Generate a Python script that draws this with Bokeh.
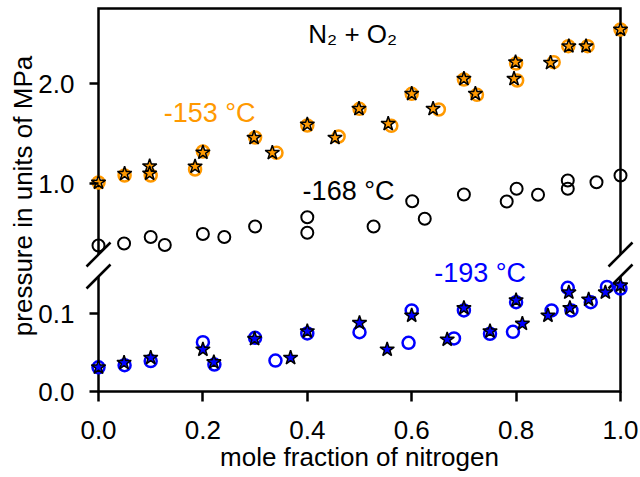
from bokeh.plotting import figure
from bokeh.models import Range1d, FixedTicker, PrintfTickFormatter, Label
from bokeh.embed import file_html
from bokeh.resources import INLINE

# ---------------- data (mole fraction of N2, pressure in MPa) ----------------
# -153 °C, circles
x153_circ = [0.0, 0.05, 0.10, 0.185, 0.20, 0.30, 0.341, 0.40, 0.46, 0.50, 0.561,
             0.60, 0.652, 0.70, 0.725, 0.80, 0.802, 0.872, 0.90, 0.937, 1.0]
p153_circ = [1.01, 1.08, 1.08, 1.14, 1.32, 1.46, 1.307, 1.58, 1.47, 1.747, 1.577,
             1.897, 1.74, 2.04, 1.887, 2.20, 2.03, 2.213, 2.373, 2.373, 2.54]
# -153 °C, stars
x153_star = [0.0, 0.05, 0.098, 0.098, 0.185, 0.20, 0.298, 0.333, 0.40, 0.453, 0.499,
             0.555, 0.60, 0.641, 0.70, 0.722, 0.799, 0.796, 0.866, 0.901, 0.934, 1.0]
p153_star = [1.01, 1.097, 1.173, 1.10, 1.17, 1.31, 1.457, 1.307, 1.59, 1.457, 1.747,
             1.597, 1.897, 1.747, 2.047, 1.897, 2.213, 2.047, 2.207, 2.373, 2.373, 2.54]
# -168 °C, circles
x168_circ = [0.0, 0.049, 0.10, 0.127, 0.20, 0.241, 0.30, 0.40, 0.40, 0.527, 0.601,
             0.625, 0.70, 0.782, 0.801, 0.842, 0.899, 0.899, 0.954, 1.0]
p168_circ = [0.38, 0.40, 0.465, 0.385, 0.495, 0.465, 0.57, 0.663, 0.507, 0.57, 0.823,
             0.647, 0.89, 0.82, 0.947, 0.887, 1.03, 0.947, 1.013, 1.08]
# -193 °C, circles
x193_circ = [0.0, 0.05, 0.10, 0.20, 0.222, 0.30, 0.339, 0.40, 0.50, 0.594, 0.60,
             0.681, 0.70, 0.75, 0.794, 0.80, 0.868, 0.899, 0.906, 0.943, 0.974, 1.0]
p193_circ = [0.031, 0.0337, 0.039, 0.0632, 0.0346, 0.0688, 0.0397, 0.0744, 0.076, 0.0624, 0.104,
             0.068, 0.104, 0.074, 0.0765, 0.1145, 0.104, 0.133, 0.104, 0.1145, 0.134, 0.132]
# -193 °C, stars
x193_star = [0.0, 0.049, 0.10, 0.20, 0.221, 0.299, 0.368, 0.40, 0.50, 0.553, 0.60,
             0.668, 0.70, 0.75, 0.80, 0.812, 0.861, 0.901, 0.903, 0.939, 0.971, 1.0]
p193_star = [0.031, 0.0368, 0.0432, 0.0538, 0.0376, 0.0675, 0.0432, 0.0773, 0.088, 0.0538, 0.0974,
             0.0667, 0.107, 0.0773, 0.117, 0.087, 0.0974, 0.127, 0.107, 0.118, 0.127, 0.136]

x_ticks = [0.0, 0.2, 0.4, 0.6, 0.8, 1.0]
y_ticks_low = [0.0, 0.1]
y_ticks_up = [1.0, 2.0]

# ---------------- broken-axis geometry (display units) ----------------
LOW_SCALE = 780.0    # display units per MPa in lower panel
UP_BASE = 208.0      # display position of 1.0 MPa in upper panel
UP_SCALE = 100.0     # display units per MPa in upper panel
Y_TOP = 383.0        # display position of the top frame line
GAP_LO = 115.0       # lower break position
GAP_HI = 137.0       # upper break position

ORANGE = "#FF9900"
BLUE = "#0000FF"
FONT = "Liberation Sans"

# canvas size and position of the data box inside the canvas
W, H = 640, 477
BOX_L, BOX_R, BOX_T, BOX_B = 98, 620, 8, 391
PX_X = BOX_R - BOX_L
PX_Y = BOX_B - BOX_T
KD = Y_TOP / PX_Y          # display units per pixel
SX = 1.0 / PX_X            # x units per pixel

x0 = -BOX_L / PX_X
x1 = 1 + (W - BOX_R) / PX_X
y0 = -(H - BOX_B) * KD
y1 = Y_TOP + BOX_T * KD

p = figure(width=W, height=H, x_range=Range1d(x0, x1), y_range=Range1d(y0, y1),
           output_backend="svg", toolbar_location=None,
           min_border_left=0, min_border_right=0, min_border_top=0, min_border_bottom=0)
p.extra_y_ranges = {
    "low": Range1d(y0 / LOW_SCALE, y1 / LOW_SCALE),
    "up": Range1d(1 + (y0 - UP_BASE) / UP_SCALE, 1 + (y1 - UP_BASE) / UP_SCALE),
}
p.grid.visible = False
p.outline_line_color = None
p.background_fill_color = "white"
p.border_fill_color = "white"

for ax in (p.xaxis[0], p.yaxis[0]):
    ax.fixed_location = 0
    ax.axis_line_color = None
    ax.major_tick_line_color = "black"
    ax.major_tick_line_width = 2.5
    ax.major_tick_in = 0
    ax.minor_tick_line_color = None
    ax.major_label_text_font = FONT
    ax.major_label_text_font_size = "26px"
    ax.major_label_text_color = "black"
    ax.axis_label_text_font = FONT
    ax.axis_label_text_font_size = "26px"
    ax.axis_label_text_font_style = "normal"
    ax.axis_label_text_color = "black"

xa = p.xaxis[0]
xa.ticker = FixedTicker(ticks=x_ticks)
xa.formatter = PrintfTickFormatter(format="%.1f")
xa.bounds = (0, 1)
xa.major_tick_out = 10
xa.major_label_standoff = 19
xa.axis_label = "mole fraction of nitrogen"
xa.axis_label_standoff = 0

ya = p.yaxis[0]
yt = [v * LOW_SCALE for v in y_ticks_low] + [UP_BASE + (v - 1.0) * UP_SCALE for v in y_ticks_up]
yl = ["%.1f" % v for v in y_ticks_low + y_ticks_up]
ya.ticker = FixedTicker(ticks=yt)
ya.major_label_overrides = dict(zip(yt, yl))
ya.bounds = (0, Y_TOP + 30)
ya.major_tick_out = 9
ya.major_label_standoff = 15
ya.axis_label = "pressure in units of MPa"
ya.axis_label_standoff = -3

# ---------------- frame with break marks ----------------
p.multi_line(xs=[[0, 0, 1, 1], [0, 0, 1, 1]],
             ys=[[GAP_LO, 0, 0, GAP_LO], [GAP_HI, Y_TOP, Y_TOP, GAP_HI]],
             line_color="black", line_width=2.5, line_join="miter")
brk_x0, brk_x1, brk_y0, brk_y1 = [], [], [], []
for xe in (0, 1):
    for yc in (GAP_LO, GAP_HI):
        brk_x0.append(xe - 12 * SX)
        brk_x1.append(xe + 12 * SX)
        brk_y0.append(yc - 12 * KD)
        brk_y1.append(yc + 12 * KD)
p.segment(x0=brk_x0, y0=brk_y0, x1=brk_x1, y1=brk_y1, line_color="black", line_width=2.5)

# ---------------- markers ----------------
p.scatter(x168_circ, p168_circ, y_range_name="up", marker="circle", size=12,
          fill_color=None, line_color="black", line_width=2)
p.scatter(x153_circ, p153_circ, y_range_name="up", marker="circle", size=12,
          fill_color=None, line_color=ORANGE, line_width=2.5)
p.scatter(x153_star, p153_star, y_range_name="up", marker="star", size=15,
          fill_color=ORANGE, line_color="black", line_width=1.5)
p.scatter(x193_circ, p193_circ, y_range_name="low", marker="circle", size=12,
          fill_color=None, line_color=BLUE, line_width=2.5)
p.scatter(x193_star, p193_star, y_range_name="low", marker="star", size=15,
          fill_color=BLUE, line_color="black", line_width=1.5)

# ---------------- text labels ----------------
def lab(x, y, rng, text, color, size="27px"):
    p.add_layout(Label(x=x, y=y, y_range_name=rng, text=text, text_color=color,
                       text_font=FONT, text_font_size=size, text_align="center",
                       text_baseline="middle"))

lab(0.487, 2.50, "up", "N\u2082 + O\u2082", "black", "26px")
lab(0.213, 1.71, "up", "-153 \u00b0C", ORANGE)
lab(0.479, 0.93, "up", "-168 \u00b0C", "black")
lab(0.731, 0.152, "low", "-193 \u00b0C", BLUE)

open("out.html", "w").write(file_html(p, INLINE))
